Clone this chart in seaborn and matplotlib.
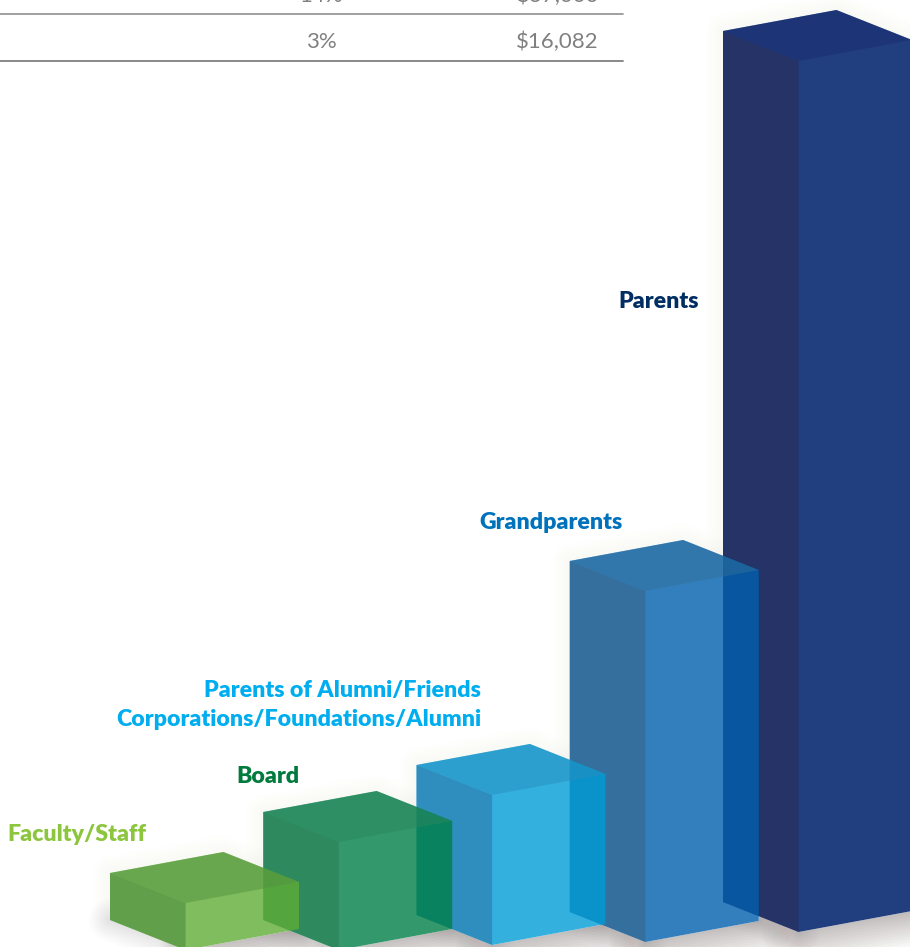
import matplotlib
matplotlib.use('Agg')
import matplotlib.pyplot as plt
import seaborn as sns
import numpy as np

# Data (front edge height of each block)
categories = ['Faculty/Staff', 'Board', 'Parents of Alumni/Friends', 'Grandparents', 'Parents']
heights = [47, 108, 150, 351, 871]
table_share = ['14%', '3%']
table_amount = ['$37,000', '$16,082']

# Colours of each block: top, left and right face as they look on white
top_colors = ['#6aa84f', '#2f9066', '#2ba0cf', '#3078ac', '#1e3678']
left_colors = ['#62a04c', '#2f8a60', '#2e8fbf', '#33709f', '#253468']
right_colors = ['#80bd5e', '#33996c', '#2fb0de', '#2f7fbe', '#213f7e']
label_colors = ['#8cc63f', '#007a3d', '#00aeef', '#0072bc', '#002d62']

# Look of the blocks, in pixels
baselines = [950, 950, 945, 942, 932]
alpha = 0.8
left_share = 0.4
drop_front = 30
rise_right = 21
W, H = 910, 947

sns.set_theme(style='white')
plt.rcParams['font.family'] = ['Lato', 'DejaVu Sans']


def see_through(color):
    # colour to paint so it comes out as the wanted one over white
    rgb = np.array(matplotlib.colors.to_rgb(color))
    return tuple(np.clip((rgb - (1 - alpha)) / alpha, 0, 1))


def shade(target, base):
    # half transparent colour that turns base into target
    t = np.array(matplotlib.colors.to_rgb(target))
    b = np.array(matplotlib.colors.to_rgb(base))
    return tuple(np.clip(2 * t - b, 0, 1))


fig = plt.figure(figsize=(W / 100, H / 100), dpi=100)
ax = fig.add_axes([0, 0, 1, 1])

step = 153.25
sns.barplot(x=categories, y=heights, order=categories, width=189 / step, ax=ax, color='white')
ax.set_xlim(-204.5 / step, (W - 204.5) / step)
ax.set_ylim(0, H)
ax.axis('off')

bars = list(ax.patches)
for bar in bars:
    bar.set_visible(False)


def corners(i):
    bar = bars[i]
    x0 = bar.get_x()
    w = bar.get_width()
    h = bar.get_height()
    low = H - baselines[i]
    top = low + h
    return dict(x0=x0, x1=x0 + w * left_share, x2=x0 + w, x3=x0 + w * (1 - left_share),
                h=h, low=low, top=top, left=top + drop_front, right=top + rise_right,
                back=top + drop_front + rise_right)


# soft shadows first, then the blocks from the back one to the front one
for i in range(len(bars) - 1, -1, -1):
    c = corners(i)
    for lw in range(52, 0, -4):
        ax.plot([c['x1'], c['x2']], [c['low'], c['right'] - c['h']], color='#5a4a48', alpha=0.028,
                lw=lw, solid_capstyle='round', zorder=1)
    for lw in range(30, 0, -4):
        ax.plot([c['x0'], c['x1']], [c['left'] - c['h'], c['low']], color='#5a4a48', alpha=0.014,
                lw=lw, solid_capstyle='round', zorder=1)
    outline_x = [c['x0'], c['x3'], c['x2'], c['x2'], c['x0'], c['x0']]
    outline_y = [c['left'], c['back'], c['right'], c['right'] - c['h'], c['left'] - c['h'], c['left']]
    for lw in range(24, 0, -4):
        ax.plot(outline_x, outline_y, color='#8a8078', alpha=0.006, lw=lw, zorder=1)

last = len(bars) - 1
for i in range(last, -1, -1):
    c = corners(i)
    z = 10 + (last - i)
    # the back block is solid, the ones before it let it shine through
    a = 1 if i == last else alpha
    base = right_colors[i] if i == last else see_through(right_colors[i])
    shape_x = [c['x0'], c['x3'], c['x2'], c['x2'], c['x1'], c['x0']]
    shape_y = [c['left'], c['back'], c['right'], c['right'] - c['h'], c['low'], c['left'] - c['h']]
    # white under each block keeps the floor shadow from showing through it
    ax.fill(shape_x, shape_y, facecolor='white', edgecolor='none', lw=0, zorder=2)
    ax.fill(shape_x, shape_y, facecolor=base, edgecolor='none', alpha=a, lw=0, zorder=z)
    # one outline plus two shaded faces, so no seams show between the faces
    ax.fill([c['x0'], c['x1'], c['x1'], c['x0']], [c['left'], c['top'], c['low'], c['left'] - c['h']],
            facecolor=shade(left_colors[i], right_colors[i]), edgecolor='none', alpha=0.5, lw=0, zorder=z)
    ax.fill([c['x0'], c['x3'], c['x2'], c['x1']], [c['left'], c['back'], c['right'], c['top']],
            facecolor=shade(top_colors[i], right_colors[i]), edgecolor='none', alpha=0.5, lw=0, zorder=z)


def px(x):
    return (x - 204.5) / step


# Block labels
label_style = dict(fontsize=16.7, fontweight='heavy', ha='right', va='center', zorder=30)
ax.text(px(146), H - 834.5, categories[0], color=label_colors[0], **label_style)
ax.text(px(300), H - 776.5, categories[1], color=label_colors[1], **label_style)
ax.text(px(481), H - 690, categories[2], color=label_colors[2], **label_style)
ax.text(px(481), H - 719, 'Corporations/Foundations/Alumni', color=label_colors[2], **label_style)
ax.text(px(623), H - 522.5, categories[3], color=label_colors[3], **label_style)
ax.text(px(699), H - 301.5, categories[4], color=label_colors[4], **label_style)

# Table rows above the chart, the upper one runs off the picture
for y, share, amount in zip([-4, 42], table_share, table_amount):
    ax.text(px(321), H - y, share, color='#808080', fontsize=16, ha='center', va='center')
    ax.text(px(599), H - y, amount, color='#808080', fontsize=16, ha='right', va='center')
ax.plot([px(0), px(623)], [H - 14, H - 14], color='#999999', lw=1.3)
ax.plot([px(0), px(623)], [H - 61, H - 61], color='#808080', lw=1.3)

fig.savefig('out.png', dpi=100)
